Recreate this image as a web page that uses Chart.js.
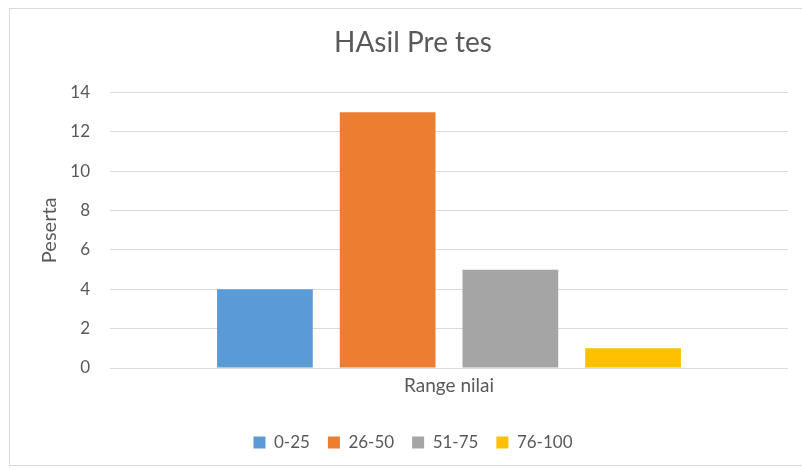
<!DOCTYPE html>
<html>
<head>
<meta charset="utf-8">
<script src="https://cdn.jsdelivr.net/npm/chart.js@4"></script>
<style>
    html, body { margin: 0; padding: 0; background: #fff; }
    #frame {
        position: absolute;
        left: 9px;
        top: 8px;
        width: 800px;
        height: 458px;
        border: 1px solid #d9d9d9;
        box-sizing: border-box;
    }
    #wrap { position: absolute; left: 0; top: 0; width: 802px; height: 470px; }
</style>
</head>
<body>
<div id="frame"></div>
<div id="wrap"><canvas id="preChart"></canvas></div>
<script>
const categories = ['Range nilai'];
const seriesLabels = ['0-25', '26-50', '51-75', '76-100'];
const seriesValues = [4, 13, 5, 1];
const seriesColors = ['#5b9bd5', '#ed7d31', '#a5a5a5', '#ffc000'];
const yTicks = [0, 2, 4, 6, 8, 10, 12, 14];

const textColor = '#595959';
const fontFamily = 'Lato, "Open Sans", sans-serif';

function initPreChart() {
    const canvas = document.getElementById('preChart');

    new Chart(canvas, {
        type: 'bar',
        data: {
            labels: categories,
            datasets: seriesLabels.map((label, i) => ({
                label: label,
                data: [seriesValues[i]],
                backgroundColor: seriesColors[i],
                barPercentage: 0.78,
                categoryPercentage: 0.724,
            })),
        },
        options: {
            responsive: true,
            maintainAspectRatio: false,
            animation: false,
            layout: {
                padding: { left: 38, right: 14, top: 20, bottom: 9 },
            },
            plugins: {
                title: {
                    display: true,
                    text: 'HAsil Pre tes',
                    color: textColor,
                    font: { family: fontFamily, size: 28, weight: 'normal' },
                    padding: { top: 6, bottom: 33 },
                },
                legend: {
                    position: 'bottom',
                    labels: {
                        color: textColor,
                        font: { family: fontFamily, size: 17 },
                        boxWidth: 12,
                        boxHeight: 12,
                        padding: 18,
                    },
                },
                tooltip: { enabled: false },
            },
            scales: {
                x: {
                    grid: { display: false },
                    border: { display: false },
                    ticks: {
                        color: textColor,
                        font: { family: fontFamily, size: 19, lineHeight: 1 },
                        padding: 0,
                    },
                    afterFit: (axis) => {
                        axis.height += 21;
                    },
                },
                y: {
                    min: yTicks[0],
                    max: yTicks[yTicks.length - 1],
                    afterBuildTicks: (axis) => {
                        axis.ticks = yTicks.map((v) => ({ value: v }));
                    },
                    afterFit: (axis) => {
                        axis.width = 72;
                    },
                    grid: { color: '#d9d9d9', drawTicks: false },
                    border: { display: false },
                    ticks: {
                        color: textColor,
                        font: { family: fontFamily, size: 17 },
                        padding: 20,
                    },
                    title: {
                        display: true,
                        text: 'Peserta',
                        color: textColor,
                        font: { family: fontFamily, size: 20 },
                        padding: { top: 0, bottom: 0 },
                    },
                },
            },
        },
    });
}

if (document.readyState === 'loading') {
    document.addEventListener('DOMContentLoaded', initPreChart);
} else {
    initPreChart();
}
</script>
</body>
</html>
